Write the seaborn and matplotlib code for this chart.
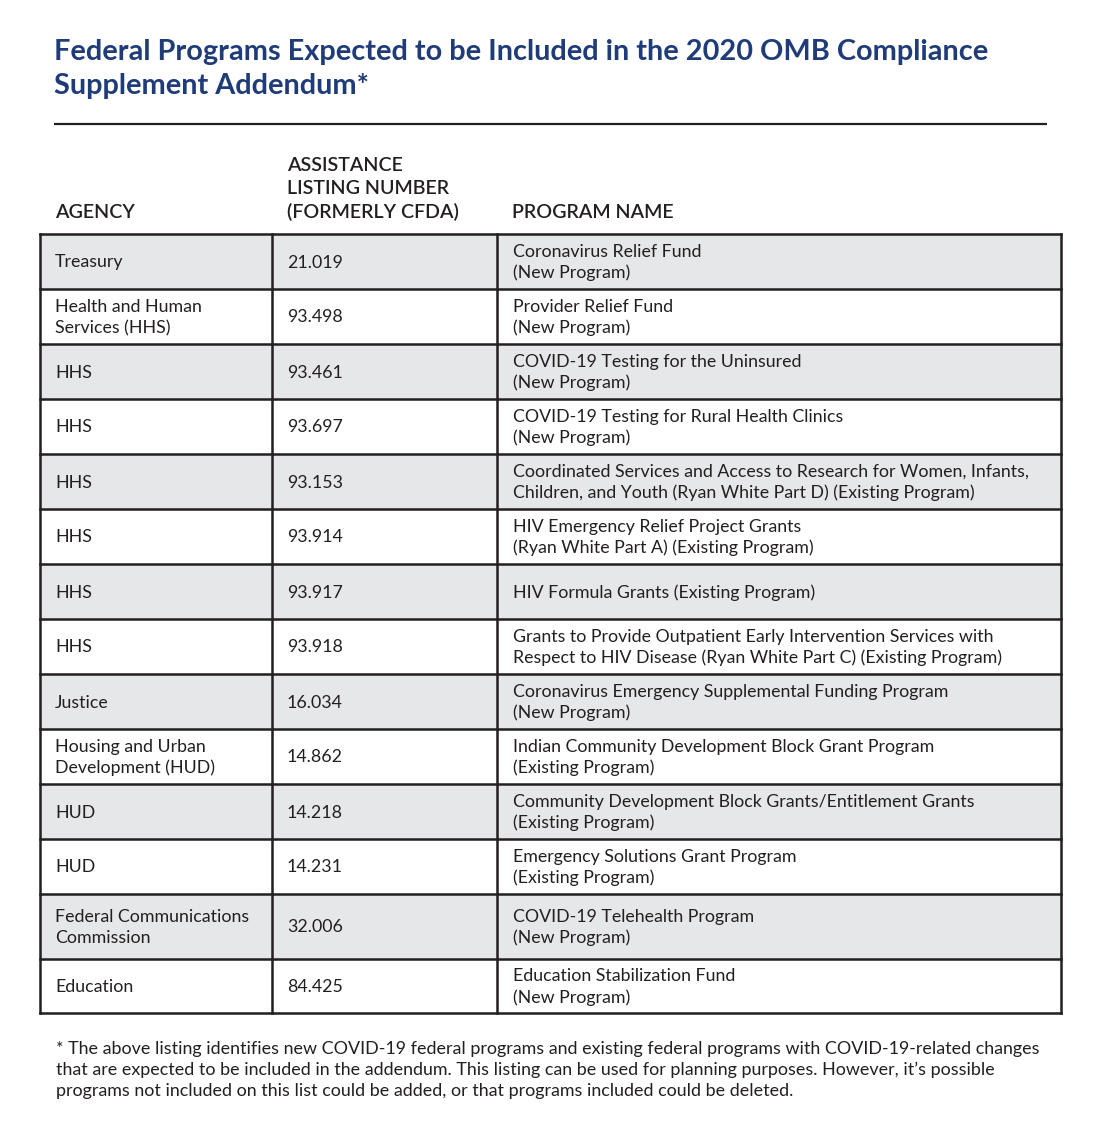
import matplotlib
matplotlib.use("Agg")
import matplotlib.pyplot as plt
import seaborn as sns
import pandas as pd

# datos de la tabla
agencias = [
    "Treasury", "Health and Human\nServices (HHS)", "HHS", "HHS", "HHS", "HHS",
    "HHS", "HHS", "Justice", "Housing and Urban\nDevelopment (HUD)", "HUD", "HUD",
    "Federal Communications\nCommission", "Education",
]
numeros = [
    "21.019", "93.498", "93.461", "93.697", "93.153", "93.914", "93.917",
    "93.918", "16.034", "14.862", "14.218", "14.231", "32.006", "84.425",
]
programas = [
    "Coronavirus Relief Fund\n(New Program)",
    "Provider Relief Fund\n(New Program)",
    "COVID-19 Testing for the Uninsured\n(New Program)",
    "COVID-19 Testing for Rural Health Clinics\n(New Program)",
    "Coordinated Services and Access to Research for Women, Infants,\n"
    "Children, and Youth (Ryan White Part D) (Existing Program)",
    "HIV Emergency Relief Project Grants\n(Ryan White Part A) (Existing Program)",
    "HIV Formula Grants (Existing Program)",
    "Grants to Provide Outpatient Early Intervention Services with\n"
    "Respect to HIV Disease (Ryan White Part C) (Existing Program)",
    "Coronavirus Emergency Supplemental Funding Program\n(New Program)",
    "Indian Community Development Block Grant Program\n(Existing Program)",
    "Community Development Block Grants/Entitlement Grants\n(Existing Program)",
    "Emergency Solutions Grant Program\n(Existing Program)",
    "COVID-19 Telehealth Program\n(New Program)",
    "Education Stabilization Fund\n(New Program)",
]
encabezados = ["AGENCY", "ASSISTANCE\nLISTING NUMBER\n(FORMERLY CFDA)", "PROGRAM NAME"]
titulo = "Federal Programs Expected to be Included in the 2020 OMB Compliance\nSupplement Addendum*"
nota = ("* The above listing identifies new COVID-19 federal programs and existing federal programs with COVID-19-related changes\n"
        "that are expected to be included in the addendum. This listing can be used for planning purposes. However, it\u2019s possible\n"
        "programs not included on this list could be added, or that programs included could be deleted.")

df = pd.DataFrame({"Agency": agencias, "Number": numeros, "Program": programas})

# layout en pixeles
col_x = [40, 272, 497, 1061]
text_pad = 15
alto_filas = [55] * 12 + [65, 54]
y0 = 234
azul = "#1f3b78"
linea = "#231f20"
gris = "#e6e7e8"

sns.set_theme(style="white")
plt.rcParams["font.family"] = ["Lato", "DejaVu Sans"]

fig = plt.figure(figsize=(11, 11.25), dpi=100)
ax = fig.add_axes([0, 0, 1, 1])
ax.set_xlim(0, 1100)
ax.set_ylim(1125, 0)
ax.axis("off")

# titulo y linea
ax.text(54, 69, titulo, color=azul, fontsize=20.8, fontweight="bold",
        va="center", ha="left", linespacing=1.36)
ax.plot([54, 1047], [124, 124], color=linea, lw=1.6, solid_capstyle="butt")

# encabezados
for i, h in enumerate(encabezados):
    ax.text(col_x[i] + text_pad, 221, h, fontsize=14.1, fontweight="semibold",
            color="#231f20", va="bottom", ha="left", linespacing=1.4)

# filas
y = y0
for i, row in df.iterrows():
    h = alto_filas[i]
    if i % 2 == 0:
        ax.fill_between([col_x[0], col_x[-1]], y, y + h, color=gris, lw=0)
    yc = y + h / 2 + 1
    for j, col in enumerate(["Agency", "Number", "Program"]):
        ax.text(col_x[j] + text_pad + (1 if j == 2 else 0), yc, row[col],
                fontsize=12.8, color="#231f20",
                va="center", ha="left", linespacing=1.38)
    ax.plot([col_x[0], col_x[-1]], [y, y], color=linea, lw=1.8, solid_capstyle="projecting")
    y += h
ax.plot([col_x[0], col_x[-1]], [y, y], color=linea, lw=1.8, solid_capstyle="projecting")
for x in col_x:
    ax.plot([x, x], [y0, y], color=linea, lw=1.8, solid_capstyle="projecting")

# nota al pie
ax.text(56, 1070, nota, fontsize=12.9, color="#231f20", va="center", ha="left",
        linespacing=1.33)

fig.savefig("out.png", dpi=100, facecolor="white")
